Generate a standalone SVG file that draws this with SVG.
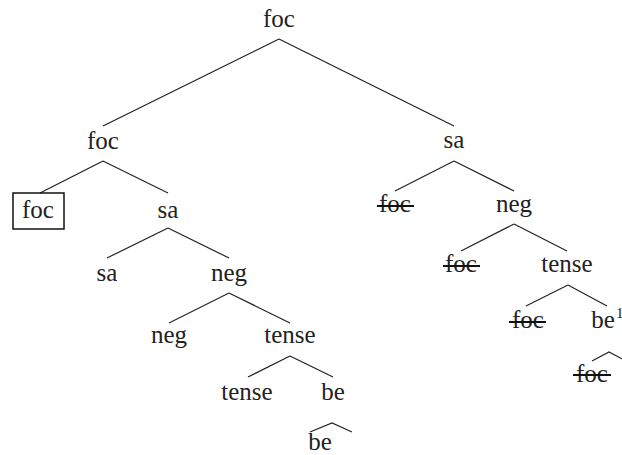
<svg xmlns="http://www.w3.org/2000/svg" width="622" height="455" viewBox="0 0 622 455">
<style>
text{font-size:25px;fill:#222;text-anchor:middle}
.sup{font-size:15px;text-anchor:start}
line,polyline{stroke:#222;stroke-width:1.2;fill:none}
.strike{stroke:#111;stroke-width:2}
.box{fill:none;stroke:#111;stroke-width:1.5}
</style>
<rect width="622" height="455" fill="#fff"/>
<g id="connectors">
<line x1="279" y1="39" x2="103" y2="126"/>
<line x1="279" y1="39" x2="454" y2="126"/>
<line x1="103" y1="161" x2="40" y2="193"/>
<line x1="103" y1="161" x2="168" y2="193"/>
<line x1="168" y1="228" x2="107" y2="258"/>
<line x1="168" y1="228" x2="229" y2="258"/>
<line x1="229" y1="293" x2="169" y2="323"/>
<line x1="229" y1="293" x2="290" y2="323"/>
<line x1="290" y1="356" x2="248" y2="377"/>
<line x1="290" y1="356" x2="333" y2="377"/>
<polyline points="310,432 332,423 352,432"/>
<line x1="454" y1="161" x2="395" y2="191"/>
<line x1="454" y1="161" x2="514" y2="191"/>
<line x1="514" y1="224" x2="461" y2="251"/>
<line x1="514" y1="224" x2="567" y2="251"/>
<line x1="568" y1="285" x2="526" y2="306"/>
<line x1="568" y1="285" x2="607" y2="306"/>
<polyline points="592,361 609,352 628,362"/>
</g>
<g font-family="Liberation Serif, Tinos, Times New Roman, Times, DejaVu Serif, serif">
<g id="n-root"><text x="279" y="27">foc</text></g>
<g id="n-foc2"><text x="103" y="149">foc</text></g>
<g id="n-foc-box"><rect class="box" x="13" y="193" width="51" height="36"/><text x="38" y="218">foc</text></g>
<g id="n-sa-l"><text x="168" y="218">sa</text></g>
<g id="n-sa-leaf"><text x="107" y="281">sa</text></g>
<g id="n-neg-l"><text x="229" y="281">neg</text></g>
<g id="n-neg-leaf"><text x="169" y="343">neg</text></g>
<g id="n-tense-l"><text x="290" y="343">tense</text></g>
<g id="n-tense-leaf"><text x="247" y="400">tense</text></g>
<g id="n-be-l"><text x="333" y="400">be</text></g>
<g id="n-be-bottom"><text x="320" y="450">be</text></g>
<g id="n-sa-r"><text x="454" y="148">sa</text></g>
<g id="n-foc-s1"><text x="395" y="212">foc</text><line class="strike" x1="377" y1="206" x2="414" y2="206"/></g>
<g id="n-neg-r"><text x="514" y="212">neg</text></g>
<g id="n-foc-s2"><text x="461" y="272">foc</text><line class="strike" x1="443" y1="266" x2="480" y2="266"/></g>
<g id="n-tense-r"><text x="567" y="272">tense</text></g>
<g id="n-foc-s3"><text x="528" y="328">foc</text><line class="strike" x1="509" y1="322" x2="546" y2="322"/></g>
<g id="n-be1"><text x="603" y="328">be</text><text class="sup" x="616" y="318">1</text></g>
<g id="n-foc-s4"><text x="592" y="382">foc</text><line class="strike" x1="573" y1="375" x2="611" y2="375"/></g>
</g>
</svg>
